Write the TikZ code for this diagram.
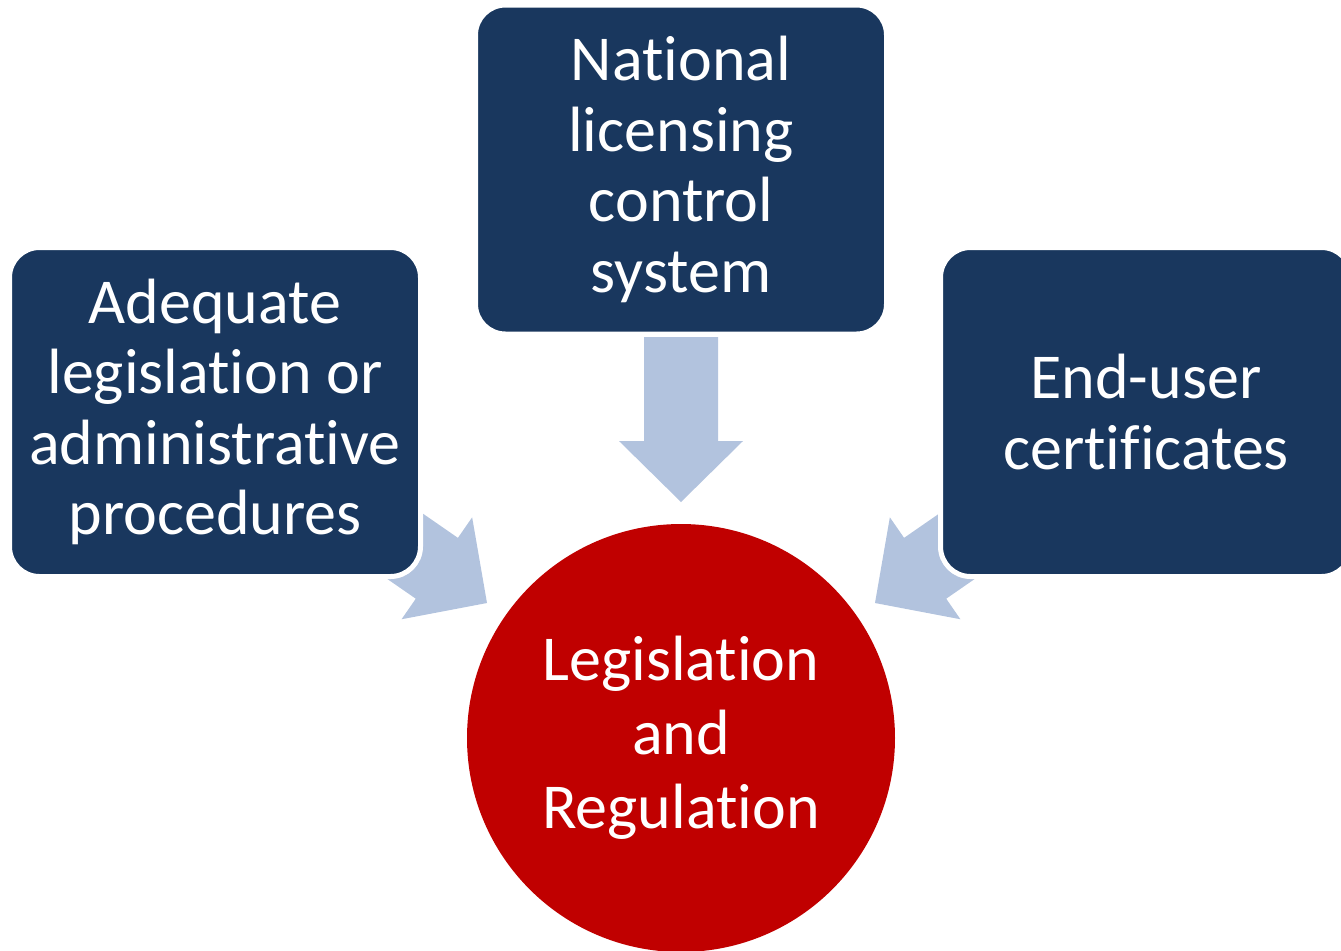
\documentclass[tikz,border=0pt]{standalone}
\usepackage{fontspec}
\setmainfont{Carlito}[Ligatures=NoCommon]
\definecolor{boxblue}{RGB}{25,55,94}
\definecolor{hubred}{RGB}{192,0,0}
\definecolor{arrowblue}{RGB}{178,195,222}
\tikzset{
    box/.style  = {shape=rectangle, rounded corners=15pt, fill=boxblue,
                   draw=white, line width=2.5pt, align=center, text=white,
                   minimum width=205.5pt, minimum height=164.5pt,
                   font=\fontsize{32}{35.25}\selectfont},
    hub/.style  = {shape=circle, fill=hubred, minimum size=214pt,
                   inner sep=0pt, align=center, text=white,
                   font=\fontsize{32}{37}\selectfont},
    flowarrow/.pic = {\fill[arrowblue] (-37,-165) -- (37,-165) -- (37,-61)
                   -- (62,-61) -- (0,0) -- (-62,-61) -- (-37,-61) -- cycle;}
}
\begin{document}
\begin{tikzpicture}[x=0.5pt, y=-0.5pt]
    \useasboundingbox (0,0) rectangle (1341,950);
    \clip (0,0) rectangle (1341,950);
    \coordinate (tipleft)  at (487,603);
    \coordinate (tiptop)   at (681,502);
    \coordinate (tipright) at (875,603);
    \pic[rotate=55.3]  at (tipleft)  {flowarrow};
    \pic               at (tiptop)   {flowarrow};
    \pic[rotate=-55.3] at (tipright) {flowarrow};
    \node[box] (legal)     at (215,412)   {Adequate \\ legislation or \\ administrative \\ procedures};
    \node[box] (licensing) at (681,169.5) {National \\ licensing \\ control \\ system};
    \node[box] (enduser)   at (1146,412)  {End-user \\ certificates};
    \node[hub] (regulation) at (681,738)  {Legislation \\ and \\ Regulation};
\end{tikzpicture}
\end{document}
